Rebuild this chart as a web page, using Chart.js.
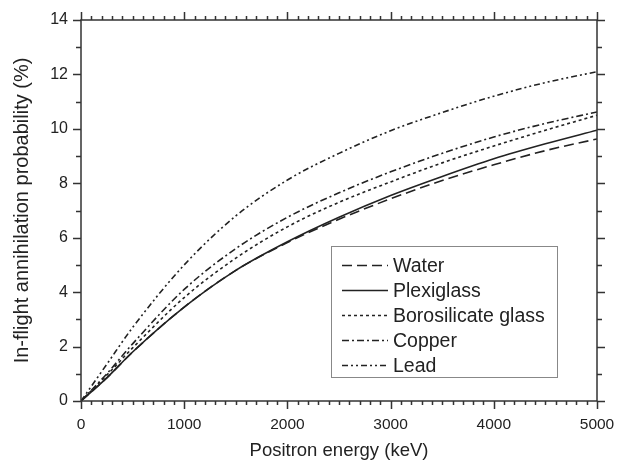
<!DOCTYPE html>
<html><head><meta charset="utf-8">
<script src="https://cdn.jsdelivr.net/npm/chart.js@4/dist/chart.umd.min.js"></script>
<style>html,body{margin:0;padding:0;background:#fff}#wrap{width:618px;height:462px}</style>
</head><body><div id="wrap"><canvas id="c" width="618" height="462"></canvas></div>
<script>
// ---- data ----
const energy      = [0, 250, 500, 1000, 1500, 2000, 2500, 3000, 3500, 4000, 4500, 5000];
const water       = [0, 0.85, 1.80, 3.45, 4.80, 5.82, 6.68, 7.43, 8.10, 8.68, 9.20, 9.63];
const plexiglass  = [0, 0.85, 1.80, 3.45, 4.80, 5.85, 6.75, 7.55, 8.25, 8.90, 9.45, 9.95];
const borosilicate= [0, 0.95, 1.95, 3.80, 5.25, 6.40, 7.30, 8.05, 8.75, 9.37, 9.95, 10.50];
const copper      = [0, 1.00, 2.10, 4.10, 5.60, 6.75, 7.65, 8.42, 9.10, 9.70, 10.20, 10.62];
const lead        = [0, 1.35, 2.70, 5.00, 6.80, 8.12, 9.10, 9.93, 10.60, 11.20, 11.70, 12.10];
const seriesNames = ['Water', 'Plexiglass', 'Borosilicate glass', 'Copper', 'Lead'];
const xTicks = [0, 1000, 2000, 3000, 4000, 5000];
const yTicks = [0, 2, 4, 6, 8, 10, 12, 14];
const xTitle = 'Positron energy (keV)';
const yTitle = 'In-flight annihilation probability (%)';

const FONT = "'Liberation Sans', Arial, sans-serif";
const INK = '#222';
const dashes = [[10, 5], [], [3, 3], [7, 3, 2, 3], [6, 3, 2, 3, 2, 3]];
const seriesValues = [water, plexiglass, borosilicate, copper, lead];

const datasets = seriesNames.map((name, i) => ({
  label: name,
  data: energy.map((e, j) => ({x: e, y: seriesValues[i][j]})),
  borderColor: INK,
  borderWidth: 1.6,
  borderDash: dashes[i],
  pointRadius: 0,
  fill: false,
  cubicInterpolationMode: 'monotone'
}));

const framePlugin = {
  id: 'frame',
  afterDraw(chart) {
    const {ctx, chartArea: a, scales: {x, y}} = chart;
    ctx.save();
    ctx.strokeStyle = '#333';
    ctx.lineWidth = 1.5;
    ctx.strokeRect(a.left, a.top, a.right - a.left, a.bottom - a.top);
    ctx.beginPath();
    for (let v = 0; v <= 5000; v += 100) {
      const px = Math.round(x.getPixelForValue(v)) + 0.5;
      const len = (v % 1000 === 0) ? 8 : 4;
      ctx.moveTo(px, a.bottom); ctx.lineTo(px, a.bottom + len);
      ctx.moveTo(px, a.top); ctx.lineTo(px, a.top - len);
    }
    for (let v = 0; v <= 14; v += 1) {
      const py = Math.round(y.getPixelForValue(v)) + 0.5;
      const len = (v % 2 === 0) ? 8 : 5;
      ctx.moveTo(a.left, py); ctx.lineTo(a.left - len, py);
      ctx.moveTo(a.right, py); ctx.lineTo(a.right + len, py);
    }
    ctx.stroke();

    // legend box
    const bx = 331, by = 246, bw = 226, bh = 131;
    ctx.fillStyle = '#fff';
    ctx.fillRect(bx, by, bw, bh);
    ctx.strokeStyle = '#888';
    ctx.lineWidth = 1;
    ctx.strokeRect(bx + 0.5, by + 0.5, bw, bh);
    ctx.font = '19.5px ' + FONT;
    ctx.textBaseline = 'middle';
    ctx.fillStyle = INK;
    chart.data.datasets.forEach((ds, i) => {
      const yy = 265.5 + i * 25;
      ctx.beginPath();
      ctx.strokeStyle = INK;
      ctx.lineWidth = 1.6;
      ctx.setLineDash(ds.borderDash || []);
      ctx.moveTo(342, yy); ctx.lineTo(388, yy);
      ctx.stroke();
      ctx.setLineDash([]);
      ctx.fillText(ds.label, 393, yy + 1);
    });
    ctx.restore();
  }
};

new Chart(document.getElementById('c'), {
  type: 'line',
  data: {datasets},
  options: {
    responsive: false,
    animation: false,
    devicePixelRatio: 1,
    layout: {padding: {top: 20, right: 21, left: 0, bottom: 0}},
    plugins: {legend: {display: false}, tooltip: {enabled: false}},
    scales: {
      x: {
        type: 'linear', min: 0, max: 5000,
        afterBuildTicks: s => { s.ticks = xTicks.map(v => ({value: v})); },
        afterFit: s => { s.height = 61; s.paddingLeft = 0; s.paddingRight = 0; },
        grid: {display: false, drawTicks: false},
        border: {display: false},
        ticks: {font: {family: FONT, size: 15.5}, color: INK, padding: 14, maxRotation: 0, autoSkip: false,
                callback: v => String(v)},
        title: {display: true, text: xTitle, font: {family: FONT, size: 18.5}, color: INK, padding: {top: 0, bottom: 0}}
      },
      y: {
        type: 'linear', min: 0, max: 14,
        afterBuildTicks: s => { s.ticks = yTicks.map(v => ({value: v})); },
        afterFit: s => { s.width = 81; s.paddingTop = 0; s.paddingBottom = 0; },
        grid: {display: false, drawTicks: false},
        border: {display: false},
        ticks: {font: {family: FONT, size: 16}, color: INK, padding: 13, autoSkip: false,
                callback: v => String(v)},
        title: {display: true, text: yTitle, font: {family: FONT, size: 20}, color: INK, padding: {top: 10.5, bottom: 0}}
      }
    }
  },
  plugins: [framePlugin]
});
</script>
</body></html>
